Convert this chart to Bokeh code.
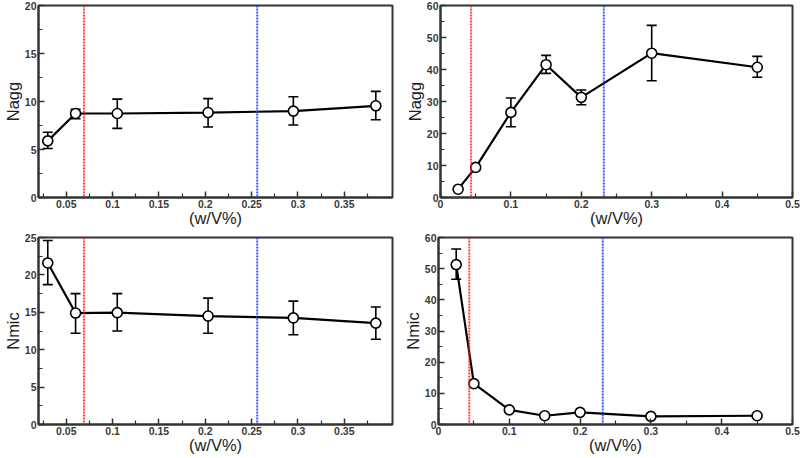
from bokeh.plotting import figure
from bokeh.layouts import column, row
from bokeh.models import (ColumnDataSource, Whisker, TeeHead, Span, FixedTicker,
                          CustomJSTickFormatter, Range1d)
from bokeh.embed import file_html
from bokeh.resources import INLINE

# ---- data ----
# top-left: Nagg vs concentration (surfactant A)
x_a = [0.03, 0.06, 0.105, 0.203, 0.295, 0.384]
nagg_a = [5.9, 8.75, 8.75, 8.85, 9.0, 9.55]
nagg_a_lo = [5.1, 8.2, 7.2, 7.35, 7.55, 8.1]
nagg_a_hi = [6.8, 9.2, 10.25, 10.3, 10.5, 11.05]
# bottom-left: Nmic
nmic_a = [21.6, 14.9, 14.95, 14.5, 14.25, 13.55]
nmic_a_lo = [18.7, 12.2, 12.5, 12.2, 12.0, 11.4]
nmic_a_hi = [24.6, 17.5, 17.5, 16.9, 16.5, 15.7]
cmc1_a = 0.069
cmc2_a = 0.256

# top-right: Nagg (surfactant B)
x_b = [0.025, 0.05, 0.1, 0.15, 0.2, 0.3, 0.45]
nagg_b = [2.6, 9.4, 26.6, 41.5, 31.3, 45.1, 40.7]
# error bars only where visible
x_b_err = [0.1, 0.15, 0.2, 0.3, 0.45]
nagg_b_lo = [22.1, 38.8, 29.0, 36.5, 37.6]
nagg_b_hi = [31.1, 44.4, 33.6, 53.8, 44.1]
# bottom-right: Nmic
nmic_b = [51.3, 13.1, 4.7, 2.8, 3.9, 2.6, 2.8]
x_b_err2 = [0.025]
nmic_b_lo = [46.6]
nmic_b_hi = [56.3]
cmc1_b = 0.0435
cmc2_b = 0.232

# axis ticks
ticks_a = [0.05, 0.1, 0.15, 0.2, 0.25, 0.3, 0.35]
minor_a = [0.025, 0.075, 0.125, 0.175, 0.225, 0.275, 0.325, 0.375]
ticks_b = [0, 0.1, 0.2, 0.3, 0.4, 0.5]
minor_b = [0.05, 0.15, 0.25, 0.35, 0.45]
x_title = "(w/V%)"

DARK = "#333333"
FONT = "Liberation Sans"

fmt_code = "return String(Math.round(tick*1000)/1000);"


def make_fig(width, height, xr, xticks, xminor, ymax, ystep, ylabel,
             bl, br, bt, bb):
    p = figure(width=width, height=height, output_backend="svg",
               toolbar_location=None, x_range=Range1d(*xr), y_range=Range1d(0, ymax),
               min_border_left=bl, min_border_right=br, min_border_top=bt,
               min_border_bottom=bb)
    p.xgrid.visible = False
    p.ygrid.visible = False
    p.outline_line_color = DARK
    p.outline_line_width = 2
    p.outline_line_alpha = 1
    p.background_fill_color = "white"
    p.border_fill_color = "white"
    p.xaxis.ticker = FixedTicker(ticks=xticks, minor_ticks=xminor)
    yt = [i * ystep for i in range(int(round(ymax / ystep)) + 1)]
    ym = [v + ystep / 2 for v in yt[:-1]]
    p.yaxis.ticker = FixedTicker(ticks=yt, minor_ticks=ym)
    p.xaxis.formatter = CustomJSTickFormatter(code=fmt_code)
    p.yaxis.formatter = CustomJSTickFormatter(code=fmt_code)
    for ax in (p.xaxis, p.yaxis):
        ax.axis_line_color = DARK
        ax.axis_line_width = 2
        ax.major_tick_line_color = DARK
        ax.major_tick_line_width = 1.5
        ax.minor_tick_line_color = DARK
        ax.minor_tick_line_width = 1.2
        ax.major_tick_in = 6
        ax.major_tick_out = 0
        ax.minor_tick_in = 4
        ax.minor_tick_out = 0
        ax.major_label_text_font = FONT
        ax.major_label_text_font_size = "10.5px"
        ax.major_label_text_font_style = "bold"
        ax.major_label_text_color = "#3a3a3a"
        ax.major_label_standoff = 2
        ax.axis_label_text_font = FONT
        ax.axis_label_text_font_size = "16.5px"
        ax.axis_label_text_font_style = "normal"
        ax.axis_label_text_color = "#222222"
    p.xaxis.axis_label_standoff = -2
    p.yaxis.axis_label_standoff = 0
    p.xaxis.axis_label = x_title
    p.yaxis.axis_label = ylabel
    return p


def add_series(p, xs, ys, xe, lo, hi, c1, c2):
    p.add_layout(Span(location=c1, dimension="height", line_color="#ff2020",
                      line_width=2, line_dash="2 1", line_alpha=0.85))
    p.add_layout(Span(location=c2, dimension="height", line_color="#2040ff",
                      line_width=2, line_dash="2 1", line_alpha=0.85))
    src = ColumnDataSource(dict(x=xs, y=ys))
    esrc = ColumnDataSource(dict(x=xe, lo=lo, hi=hi))
    w = Whisker(base="x", lower="lo", upper="hi", source=esrc,
                line_color="black", line_width=1.6,
                upper_head=TeeHead(size=10, line_color="black", line_width=1.6),
                lower_head=TeeHead(size=10, line_color="black", line_width=1.6))
    p.add_layout(w)
    p.line("x", "y", source=src, line_color="black", line_width=2.2)
    p.scatter("x", "y", source=src, marker="circle", size=10,
              fill_color="white", line_color="black", line_width=1.6)


p1 = make_fig(400, 230, (0.02, 0.402), ticks_a, minor_a, 20, 5, "Nagg",
              36, 8, 5, 33)
add_series(p1, x_a, nagg_a, x_a, nagg_a_lo, nagg_a_hi, cmc1_a, cmc2_a)

p2 = make_fig(400, 230, (0, 0.5), ticks_b, minor_b, 60, 10, "Nagg",
              40, 8, 5, 33)
add_series(p2, x_b, nagg_b, x_b_err, nagg_b_lo, nagg_b_hi, cmc1_b, cmc2_b)

p3 = make_fig(400, 227, (0.02, 0.402), ticks_a, minor_a, 25, 5, "Nmic",
              36, 8, 7, 33)
add_series(p3, x_a, nmic_a, x_a, nmic_a_lo, nmic_a_hi, cmc1_a, cmc2_a)

p4 = make_fig(400, 227, (0, 0.5), ticks_b, minor_b, 60, 10, "Nmic",
              38, 8, 7, 33)
add_series(p4, x_b, nmic_b, x_b_err2, nmic_b_lo, nmic_b_hi, cmc1_b, cmc2_b)

layout = column(row(p1, p2, spacing=0), row(p3, p4, spacing=0), spacing=0)

open("out.html", "w").write(file_html(layout, INLINE))
